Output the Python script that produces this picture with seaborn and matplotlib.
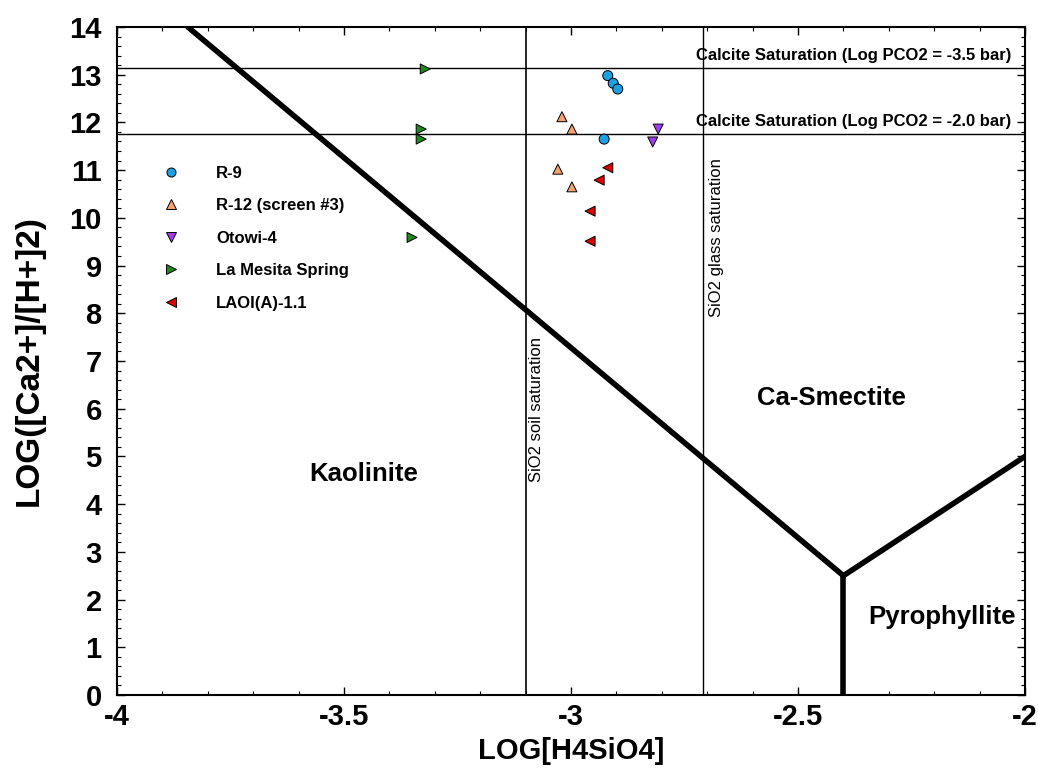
import numpy as np
import pandas as pd
import matplotlib
matplotlib.use("Agg")
import matplotlib.pyplot as plt
from matplotlib.ticker import MultipleLocator
import seaborn as sns

# ---- data ----
r9_x = [-2.919, -2.907, -2.897, -2.927]
r9_y = [12.98, 12.82, 12.70, 11.65]
r12_x = [-3.020, -2.998, -3.029, -2.998]
r12_y = [12.12, 11.86, 11.02, 10.65]
otowi_x = [-2.808, -2.820]
otowi_y = [11.86, 11.59]
mesita_x = [-3.321, -3.330, -3.330, -3.350]
mesita_y = [13.12, 11.86, 11.65, 9.59]
laoi_x = [-2.919, -2.938, -2.958, -2.958]
laoi_y = [11.05, 10.79, 10.14, 9.51]

series_names = ["R-9", "R-12 (screen #3)", "Otowi-4", "La Mesita Spring", "LAOI(A)-1.1"]
series_colors = ["#1BA1E2", "#F5A272", "#A23CF0", "#1E8A1E", "#E00000"]
series_markers = ["o", "^", "v", ">", "<"]

# phase boundaries
kao_smec_x = [-3.844, -2.40]
kao_smec_y = [14.0, 2.5]
pyro_smec_x = [-2.40, -2.0]
pyro_smec_y = [2.5, 5.0]
kao_pyro_x = [-2.40, -2.40]
kao_pyro_y = [0.0, 2.5]

calcite_35 = 13.14
calcite_20 = 11.76
sio2_soil = -3.10
sio2_glass = -2.71

rows = []
for name, xs, ys in zip(series_names,
                        [r9_x, r12_x, otowi_x, mesita_x, laoi_x],
                        [r9_y, r12_y, otowi_y, mesita_y, laoi_y]):
    for x, y in zip(xs, ys):
        rows.append({"x": x, "y": y, "Sample": name})
df = pd.DataFrame(rows)

sns.set_style("ticks")
plt.rcParams["font.family"] = ["Liberation Sans", "DejaVu Sans"]
plt.rcParams["text.color"] = "black"
plt.rcParams["axes.labelcolor"] = "black"
plt.rcParams["xtick.color"] = "black"
plt.rcParams["ytick.color"] = "black"
plt.rcParams["axes.edgecolor"] = "black"

fig = plt.figure(figsize=(10.38, 7.75), dpi=100)
ax = fig.add_axes([0.1127, 0.1032, 0.8748, 0.862])

# reference lines
ax.axhline(calcite_35, color="black", lw=1.0, zorder=1)
ax.axhline(calcite_20, color="black", lw=1.0, zorder=1)
ax.axvline(sio2_soil, color="black", lw=1.2, zorder=1)
ax.axvline(sio2_glass, color="black", lw=1.0, zorder=1)

# phase boundaries
sns.lineplot(x=kao_smec_x, y=kao_smec_y, color="black", lw=4, ax=ax, zorder=2)
sns.lineplot(x=pyro_smec_x, y=pyro_smec_y, color="black", lw=4, ax=ax, zorder=2)
ax.plot(kao_pyro_x, kao_pyro_y, color="black", lw=4, zorder=2, solid_capstyle="butt")

sns.scatterplot(data=df, x="x", y="y", hue="Sample", style="Sample",
                hue_order=series_names, style_order=series_names,
                palette=dict(zip(series_names, series_colors)),
                markers=dict(zip(series_names, series_markers)),
                s=52, edgecolor="black", linewidth=0.7, ax=ax, zorder=3)

ax.set_xlim(-4, -2)
ax.set_ylim(0, 14)
ax.xaxis.set_major_locator(MultipleLocator(0.5))
ax.xaxis.set_minor_locator(MultipleLocator(0.1))
ax.yaxis.set_major_locator(MultipleLocator(1))
ax.yaxis.set_minor_locator(MultipleLocator(0.2))
ax.set_xticks([-4, -3.5, -3, -2.5, -2])
ax.set_xticklabels(["-4", "-3.5", "-3", "-2.5", "-2"])
ax.tick_params(which="both", direction="in", top=True, right=True)
ax.tick_params(which="major", length=6, width=1.0, labelsize=21, pad=6)
ax.tick_params(axis="y", which="major", pad=11)
ax.tick_params(which="minor", length=3, width=0.8)
for lab in ax.get_xticklabels() + ax.get_yticklabels():
    lab.set_fontweight("bold")
for sp in ax.spines.values():
    sp.set_linewidth(1.5)

ax.set_xlabel("LOG[H4SiO4]", fontsize=21, fontweight="bold", labelpad=4)
ax.set_ylabel("LOG([Ca2+]/[H+]2)", fontsize=24, fontweight="bold", labelpad=18)

# annotations
ax.text(-2.03, calcite_35 + 0.1, "Calcite Saturation (Log PCO2 = -3.5 bar)",
        ha="right", va="bottom", fontsize=12, fontweight="bold")
ax.text(-2.03, calcite_20 + 0.1, "Calcite Saturation (Log PCO2 = -2.0 bar)",
        ha="right", va="bottom", fontsize=12, fontweight="bold")
ax.text(-3.075, 5.99, "SiO2 soil saturation", rotation=90, ha="center", va="center",
        fontsize=12)
ax.text(-2.68, 9.58, "SiO2 glass saturation", rotation=90, ha="center", va="center",
        fontsize=12)
ax.text(-3.456, 4.63, "Kaolinite", ha="center", va="center", fontsize=18.5, fontweight="bold")
ax.text(-2.426, 6.23, "Ca-Smectite", ha="center", va="center", fontsize=18.5, fontweight="bold")
ax.text(-2.183, 1.64, "Pyrophyllite", ha="center", va="center", fontsize=18.5, fontweight="bold")

leg = ax.legend(loc="upper left", bbox_to_anchor=(0.025, 0.815), frameon=False,
                fontsize=12, labelspacing=1.05, handletextpad=1.7, markerscale=0.9)
for t in leg.get_texts():
    t.set_fontweight("bold")

fig.savefig("out.png", dpi=100)
